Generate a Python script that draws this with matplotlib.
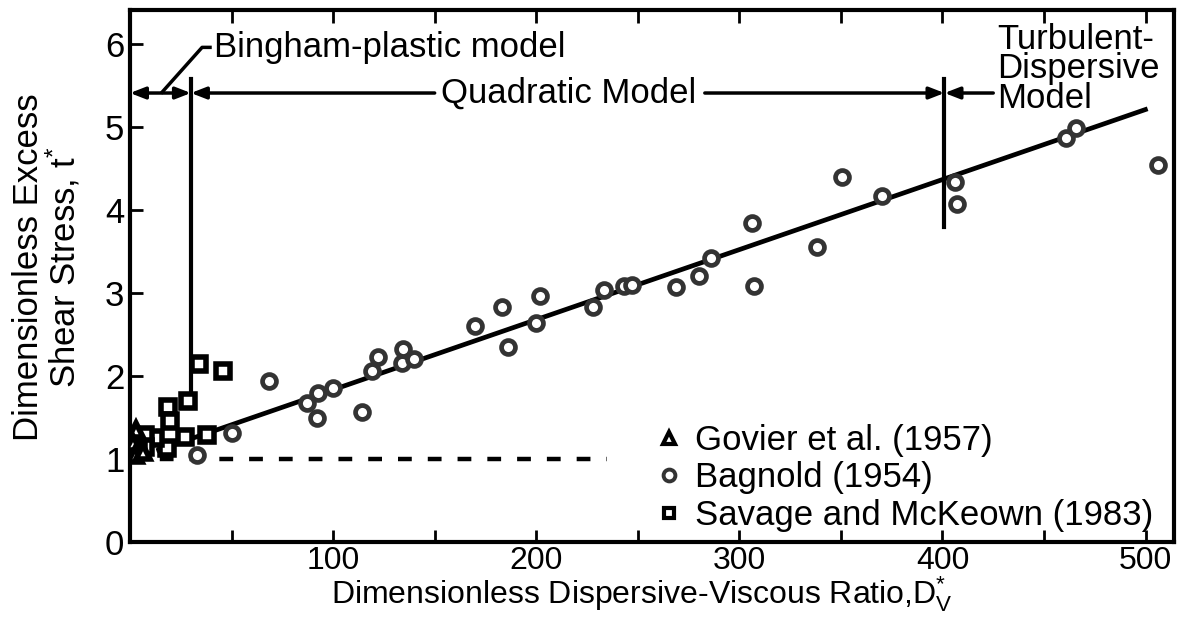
import matplotlib
matplotlib.use('Agg')
import matplotlib.pyplot as plt
from matplotlib.lines import Line2D

plt.rcParams['font.family'] = ['Liberation Sans', 'DejaVu Sans']
plt.rcParams['mathtext.default'] = 'regular'

# Govier et al. (1957)
govier_x = [3.0, 1.5, 2.5, 6.4]
govier_y = [1.35, 1.19, 1.05, 1.08]

# Bagnold (1954)
bagnold_x = [33, 50, 68.5, 87, 92.6, 100, 92, 114, 119, 122, 134, 134.5, 140,
             170, 183, 186, 200, 202, 228, 233.5, 243, 247, 269, 280, 286,
             306, 307, 338, 350.7, 370, 406, 407, 460.6, 465.5, 506]
bagnold_y = [1.05, 1.31, 1.94, 1.67, 1.80, 1.86, 1.49, 1.57, 2.06, 2.23, 2.16, 2.33, 2.20,
             2.60, 2.83, 2.35, 2.64, 2.96, 2.83, 3.04, 3.08, 3.10, 3.07, 3.20, 3.42,
             3.84, 3.08, 3.55, 4.40, 4.17, 4.34, 4.07, 4.87, 4.99, 4.54]

# Savage and McKeown (1983)
savage_x = [34, 46, 28.6, 18.7, 19.7, 27, 38, 18, 12.3, 7.4, 7.4, 4]
savage_y = [2.14, 2.06, 1.70, 1.63, 1.46, 1.26, 1.29, 1.13, 1.25, 1.29, 1.14, 1.10]

# model line and reference line
fit_x = [13, 501]
fit_y = [1.10, 5.22]
ref_x = [0, 235]
ref_y = [1.0, 1.0]

# model boundaries
bingham_edge = 30
turb_edge = 401
arrow_y = 5.41

fig = plt.figure(figsize=(11.86, 6.19), dpi=100)
ax = fig.add_axes([0.1096, 0.1244, 0.8803, 0.8594])

ax.plot(fit_x, fit_y, color='black', lw=3.4, solid_capstyle='butt', zorder=3)
ax.plot(ref_x, ref_y, color='black', lw=3.2, dashes=(3.1, 3.6), zorder=2)

ax.plot(bagnold_x, bagnold_y, 'o', ms=10, mfc='white', mec='#333333', mew=3.4, ls='none', zorder=4)
ax.plot(savage_x, savage_y, 's', ms=9.5, mfc='white', mec='black', mew=4, ls='none', zorder=4)
ax.plot(govier_x, govier_y, '^', ms=10, mfc='white', mec='black', mew=4, ls='none', zorder=5)

# vertical boundary lines
ax.plot([bingham_edge, bingham_edge], [1.70, 5.58], color='black', lw=3, zorder=3)
ax.plot([turb_edge, turb_edge], [3.80, 5.58], color='black', lw=3, zorder=3)

head = dict(arrowstyle='-|>,head_length=0.9,head_width=0.35', color='black', lw=2.5,
            shrinkA=0, shrinkB=0)
dbl = dict(arrowstyle='<|-|>,head_length=0.9,head_width=0.35', color='black', lw=2.5,
           shrinkA=0, shrinkB=0)
ax.annotate('', xy=(0, arrow_y), xytext=(bingham_edge, arrow_y), arrowprops=dbl)
ax.annotate('', xy=(bingham_edge, arrow_y), xytext=(150, arrow_y), arrowprops=head)
ax.annotate('', xy=(turb_edge, arrow_y), xytext=(283, arrow_y), arrowprops=head)
ax.annotate('', xy=(turb_edge, arrow_y), xytext=(425, arrow_y), arrowprops=head)

# Bingham leader
ax.plot([15.8, 35.5, 39.4], [5.42, 5.96, 5.96], color='black', lw=2.5)
ax.text(41.5, 5.96, 'Bingham-plastic model', fontsize=25, va='center', ha='left')
ax.text(216, arrow_y, 'Quadratic Model', fontsize=25, va='center', ha='center')
ax.text(427, 5.70, 'Turbulent-\nDispersive\nModel', fontsize=25, va='center', ha='left',
        linespacing=0.86)

ax.set_xlim(0, 514)
ax.set_ylim(0, 6.41)
ax.set_xticks([100, 200, 300, 400, 500])
ax.set_xticks([50, 150, 250, 350, 450], minor=True)
ax.set_yticks([0, 1, 2, 3, 4, 5, 6])
ax.tick_params(axis='x', which='both', direction='in', top=True, length=9, width=2,
               labelsize=23, pad=3)
ax.tick_params(axis='y', direction='in', right=False, length=9, width=2, labelsize=25, pad=4)
for s in ax.spines.values():
    s.set_linewidth(3)

ax.set_xlabel('Dimensionless Dispersive-Viscous Ratio,$D^{*}_{V}$', fontsize=23, labelpad=0)
ax.xaxis.set_label_coords(0.49, -0.06)
ax.set_ylabel('Dimensionless Excess\nShear Stress, $t^{*}$', fontsize=25,
              linespacing=0.95, va='center')
ax.yaxis.set_label_coords(-0.0795, 0.517)

handles = [
    Line2D([], [], marker='^', ls='none', ms=8.5, mfc='white', mec='black', mew=3),
    Line2D([], [], marker='o', ls='none', ms=8.5, mfc='white', mec='#333333', mew=2.8),
    Line2D([], [], marker='s', ls='none', ms=7.5, mfc='white', mec='black', mew=3),
]
labels = ['Govier et al. (1957)', 'Bagnold (1954)', 'Savage and McKeown (1983)']
ax.legend(handles, labels, loc='lower right', bbox_to_anchor=(1.0, -0.02), frameon=False,
          fontsize=25, handlelength=0.6, handletextpad=0.45, labelspacing=0.13,
          borderaxespad=0.2)

fig.savefig('out.png', dpi=100)
